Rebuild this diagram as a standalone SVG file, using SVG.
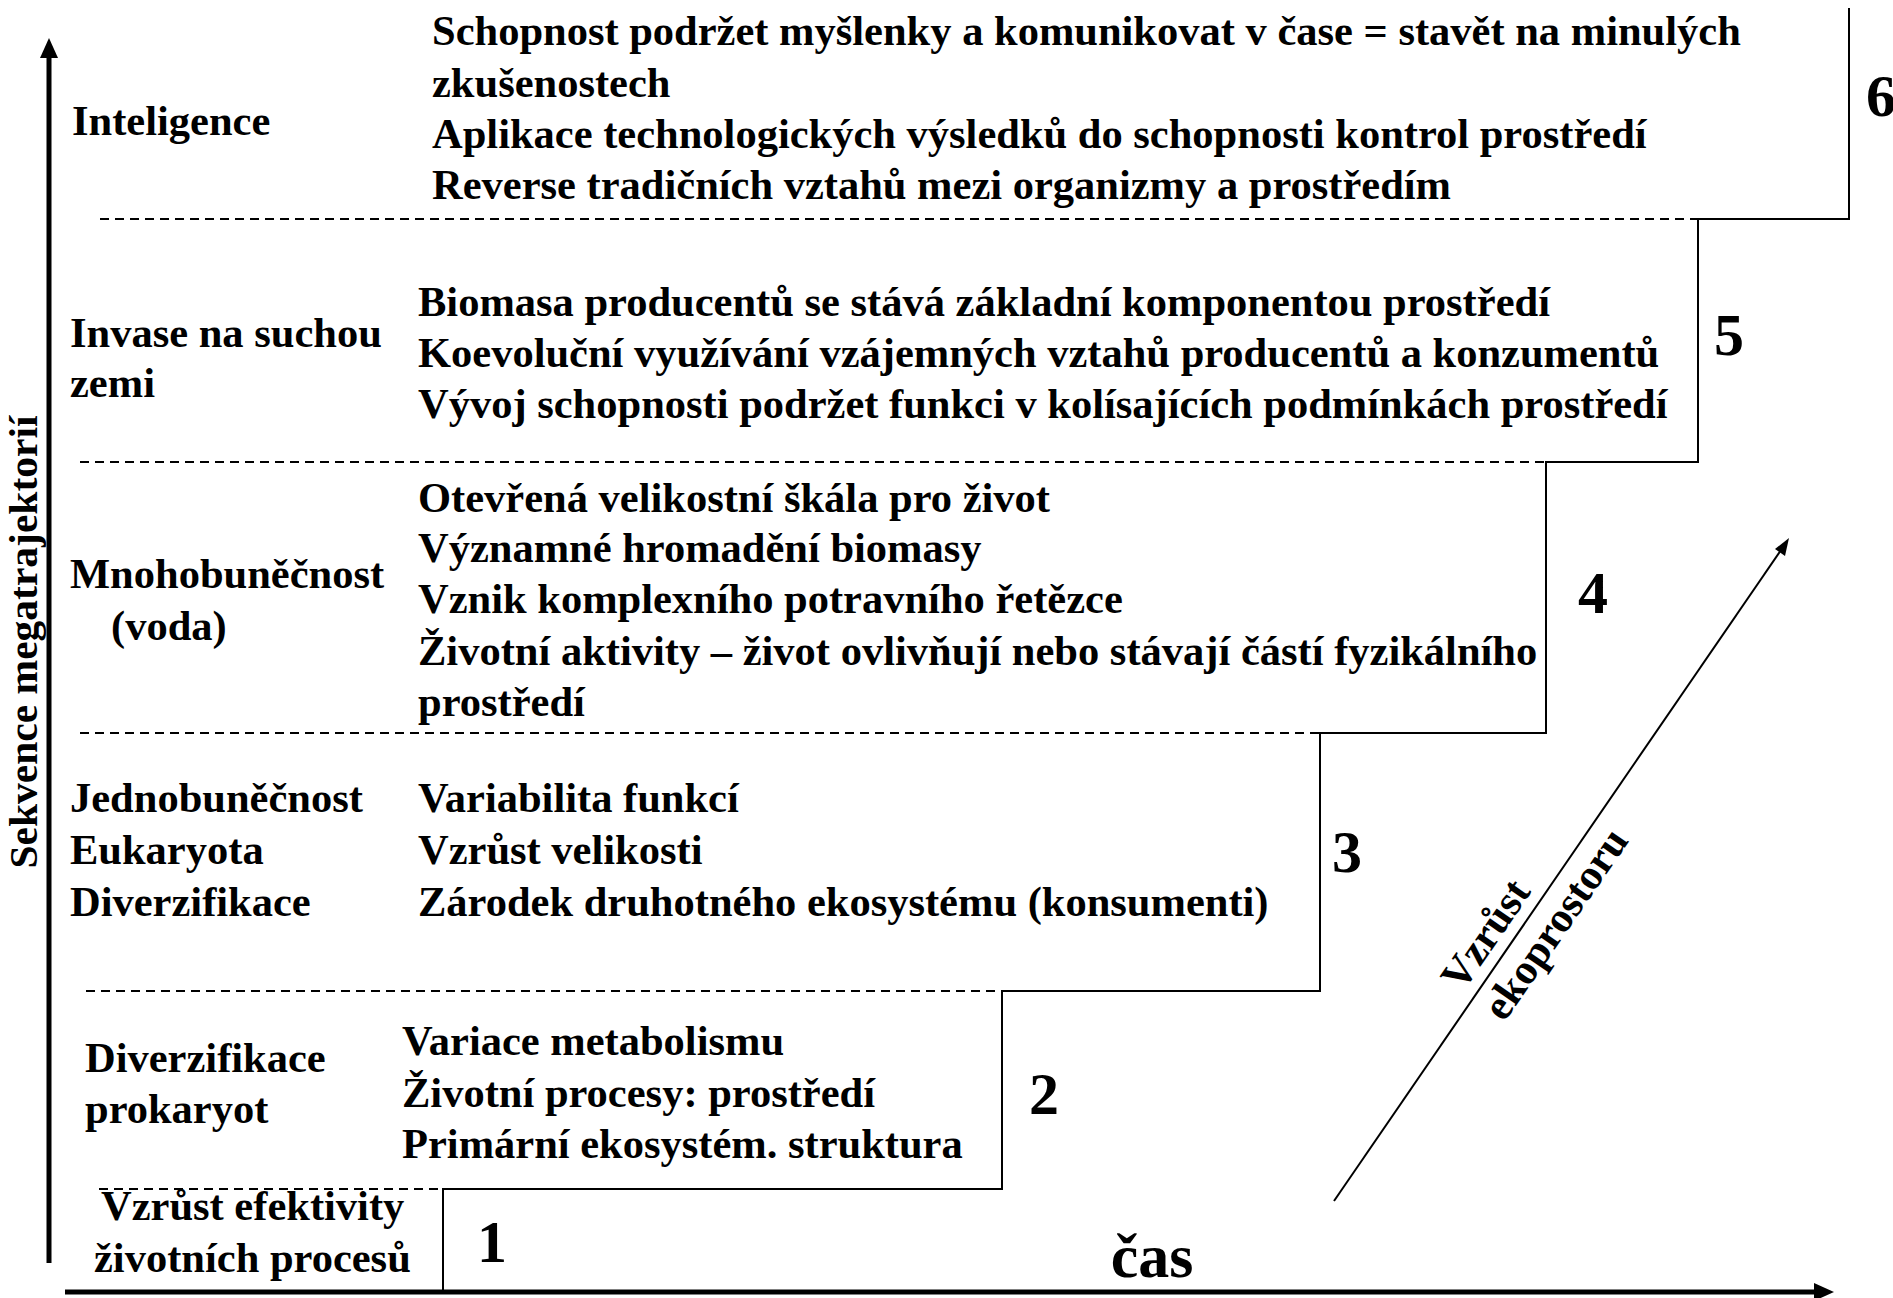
<svg xmlns="http://www.w3.org/2000/svg" width="1893" height="1298" viewBox="0 0 1893 1298">
<style>
text{font-family:"Liberation Serif","Times New Roman",serif;font-weight:bold;fill:#000}
.t{font-size:42.5px}
.n{font-size:60px}
.dash{stroke:#000;stroke-width:2;stroke-dasharray:9 6;fill:none}
.solid{stroke:#000;stroke-width:2;fill:none}
.axis{stroke:#000;stroke-width:5;fill:none}
</style>
<rect width="1893" height="1298" fill="#fff"/>

<g id="steps">
<path class="solid" d="M1849,8 V219 H1698 V462 H1546 V733 H1320 V991 H1002 V1189 H443 V1292"/>
<line class="dash" x1="100" y1="219" x2="1698" y2="219"/>
<line class="dash" x1="80" y1="462" x2="1546" y2="462"/>
<line class="dash" x1="80" y1="733" x2="1320" y2="733"/>
<line class="dash" x1="86" y1="991" x2="1002" y2="991"/>
<line class="dash" x1="99" y1="1189" x2="443" y2="1189"/>
</g>

<g id="connectors">
<line class="axis" x1="49" y1="1263" x2="49" y2="55"/>
<polygon points="49,38 40,58 58,58" fill="#000"/>
<line class="axis" x1="65" y1="1292" x2="1816" y2="1292"/>
<polygon points="1834,1292 1814,1283 1814,1301" fill="#000"/>
<line x1="1334" y1="1201" x2="1781" y2="550" stroke="#000" stroke-width="2"/>
<polygon points="1789,538 1775,549 1785,556" fill="#000"/>
</g>

<g id="axis-labels">
<text transform="translate(37,642) rotate(-90)" font-size="39" text-anchor="middle" textLength="453" lengthAdjust="spacingAndGlyphs">Sekvence megatrajektorií</text>
<text x="1152" y="1277" font-size="62" text-anchor="middle">čas</text>
<text class="t" transform="translate(1507,949) rotate(-55.5)" x="0" y="-12" text-anchor="middle">Vzrůst</text>
<text class="t" transform="translate(1534,909) rotate(-55.5)" x="0" y="40" text-anchor="middle">ekoprostoru</text>
</g>

<g id="node-6">
<text class="t" x="72" y="135">Inteligence</text>
<text class="t" x="432" y="45">Schopnost podržet myšlenky a komunikovat v čase = stavět na minulých</text>
<text class="t" x="432" y="97">zkušenostech</text>
<text class="t" x="432" y="148">Aplikace technologických výsledků do schopnosti kontrol prostředí</text>
<text class="t" x="432" y="199">Reverse tradičních vztahů mezi organizmy a prostředím</text>
<text class="n" x="1866" y="116">6</text>
</g>

<g id="node-5">
<text class="t" x="70" y="347">Invase na suchou</text>
<text class="t" x="70" y="397">zemi</text>
<text class="t" x="418" y="316">Biomasa producentů se stává základní komponentou prostředí</text>
<text class="t" x="418" y="367">Koevoluční využívání vzájemných vztahů producentů a konzumentů</text>
<text class="t" x="418" y="418">Vývoj schopnosti podržet funkci v kolísajících podmínkách prostředí</text>
<text class="n" x="1714" y="355">5</text>
</g>

<g id="node-4">
<text class="t" x="70" y="588">Mnohobuněčnost</text>
<text class="t" x="111" y="640">(voda)</text>
<text class="t" x="418" y="512">Otevřená velikostní škála pro život</text>
<text class="t" x="418" y="562">Významné hromadění biomasy</text>
<text class="t" x="418" y="613">Vznik komplexního potravního řetězce</text>
<text class="t" x="418" y="665">Životní aktivity – život ovlivňují nebo stávají částí fyzikálního</text>
<text class="t" x="418" y="716">prostředí</text>
<text class="n" x="1578" y="613">4</text>
</g>

<g id="node-3">
<text class="t" x="70" y="812">Jednobuněčnost</text>
<text class="t" x="70" y="864">Eukaryota</text>
<text class="t" x="70" y="916">Diverzifikace</text>
<text class="t" x="418" y="812">Variabilita funkcí</text>
<text class="t" x="418" y="864">Vzrůst velikosti</text>
<text class="t" x="418" y="916">Zárodek druhotného ekosystému (konsumenti)</text>
<text class="n" x="1332" y="872">3</text>
</g>

<g id="node-2">
<text class="t" x="85" y="1072">Diverzifikace</text>
<text class="t" x="85" y="1123">prokaryot</text>
<text class="t" x="402" y="1055">Variace metabolismu</text>
<text class="t" x="402" y="1107">Životní procesy: prostředí</text>
<text class="t" x="402" y="1158">Primární ekosystém. struktura</text>
<text class="n" x="1029" y="1114">2</text>
</g>

<g id="node-1">
<text class="t" x="101" y="1220">Vzrůst efektivity</text>
<text class="t" x="94" y="1272">životních procesů</text>
<text class="n" x="477" y="1262">1</text>
</g>
</svg>
